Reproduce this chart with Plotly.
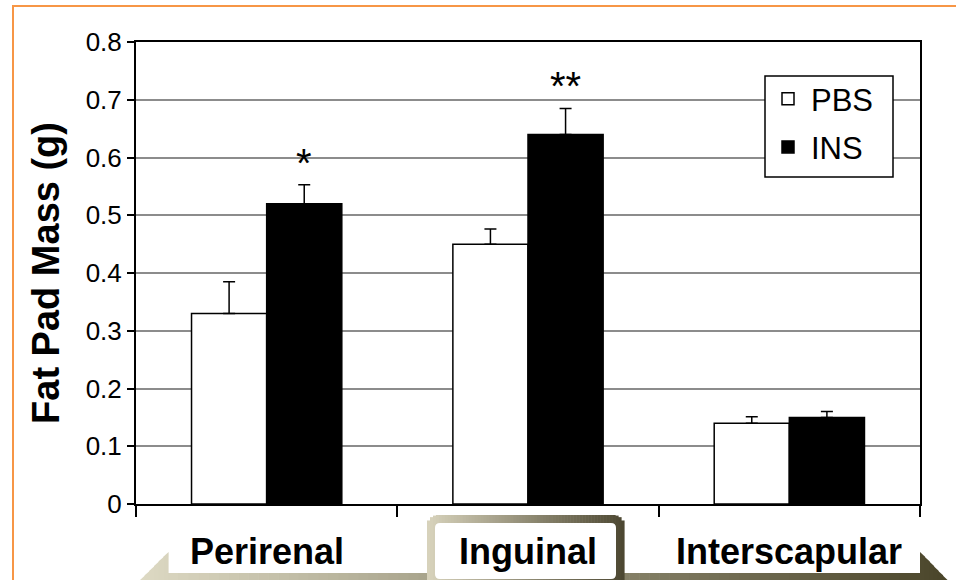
import plotly.graph_objects as go

categories = ["Perirenal", "Inguinal", "Interscapular"]
pbs_mean = [0.33, 0.45, 0.14]
pbs_err = [0.055, 0.026, 0.011]
ins_mean = [0.52, 0.64, 0.15]
ins_err = [0.033, 0.045, 0.010]
sig_labels = ["*", "**", ""]
y_ticks = [0, 0.1, 0.2, 0.3, 0.4, 0.5, 0.6, 0.7, 0.8]

W, H = 956, 580
L, R, T, B = 136, 920, 42, 504
FONT = "Arial, Liberation Sans, sans-serif"


def xp(px):
    return (px - L) / (R - L)


def yp(py):
    return (B - py) / (B - T)


def lerp_color(c0, c1, t):
    a = [int(c0[i:i + 2], 16) for i in (1, 3, 5)]
    b = [int(c1[i:i + 2], 16) for i in (1, 3, 5)]
    return "rgb(%d,%d,%d)" % tuple(round(a[k] + (b[k] - a[k]) * t) for k in range(3))


fig = go.Figure()
fig.add_trace(go.Bar(
    name="PBS", x=categories, y=pbs_mean,
    marker=dict(color="white", line=dict(color="black", width=1.5)),
    error_y=dict(type="data", array=pbs_err, arrayminus=[0] * 3, symmetric=False,
                 color="black", thickness=1.5, width=6),
    legendgroup="a",
))
fig.add_trace(go.Bar(
    name="INS", x=categories, y=ins_mean,
    marker=dict(color="black", line=dict(color="black", width=1.5)),
    error_y=dict(type="data", array=ins_err, arrayminus=[0] * 3, symmetric=False,
                 color="black", thickness=1.5, width=6),
    legendgroup="b",
))

bargap = 0.425
bar_w_px = (R - L) / len(categories) * (1 - bargap) / 2

annotations = []
for c, m, e, s in zip(categories, ins_mean, ins_err, sig_labels):
    if s:
        annotations.append(dict(x=c, y=m + e, xref="x", yref="y", text=s, showarrow=False,
                                xshift=bar_w_px / 2, yanchor="bottom", yshift=-2,
                                font=dict(family=FONT, size=40, color="black")))
for c in categories:
    annotations.append(dict(x=c, y=yp(551), xref="x", yref="paper", text="<b>%s</b>" % c,
                            showarrow=False, yanchor="middle",
                            font=dict(family=FONT, size=36, color="black")))

shapes = []
# legend frame (white box with black border)
shapes.append(dict(type="rect", xref="paper", yref="paper",
                   x0=xp(765), x1=xp(893), y0=yp(177), y1=yp(76),
                   fillcolor="white", line=dict(color="black", width=1.5), layer="above"))

# bottom gradient band (arrow base)
c0, c1 = "#DDD9C3", "#4A452A"
x_left, x_l2, x_r2, x_right = 140, 168, 920, 947
y_bot, y_top_tri, y_band = 585, 552, 573


def top_at(x, side):
    if x <= x_l2 and side == "L":
        return 580 - (x - x_left) * (580 - y_top_tri) / (x_l2 - x_left)
    if x >= x_r2 and side == "R":
        return y_top_tri + (x - x_r2) * (580 - y_top_tri) / (x_right - x_r2)
    return y_band


edges = []
n1 = 6
for i in range(n1):
    edges.append((x_left + (x_l2 - x_left) * i / n1, x_left + (x_l2 - x_left) * (i + 1) / n1, "L"))
n2 = 75
for i in range(n2):
    edges.append((x_l2 + (x_r2 - x_l2) * i / n2, x_l2 + (x_r2 - x_l2) * (i + 1) / n2, "M"))
n3 = 6
for i in range(n3):
    edges.append((x_r2 + (x_right - x_r2) * i / n3, x_r2 + (x_right - x_r2) * (i + 1) / n3, "R"))
for a, b, side in edges:
    t = ((a + b) / 2 - x_left) / (x_right - x_left)
    ta, tb = top_at(a, side), top_at(b, side)
    path = "M %f,%f L %f,%f L %f,%f L %f,%f Z" % (xp(a), yp(ta), xp(b + 0.6), yp(tb),
                                                 xp(b + 0.6), yp(y_bot), xp(a), yp(y_bot))
    shapes.append(dict(type="path", xref="paper", yref="paper", path=path,
                       fillcolor=lerp_color(c0, c1, t), line=dict(width=0), layer="above"))

# Inguinal rounded gradient box
bx0, bx1, by0, by1, rad = 427, 624, 515, 590, 11
bc0, bc1 = "#D8D3BC", "#4C4731"
nb = 66
for i in range(nb):
    a = bx0 + (bx1 - bx0) * i / nb
    b = bx0 + (bx1 - bx0) * (i + 1) / nb
    mid = (a + b) / 2
    d = 0
    if mid < bx0 + rad:
        d = bx0 + rad - mid
    elif mid > bx1 - rad:
        d = mid - (bx1 - rad)
    top = by0 + rad - (rad ** 2 - min(d, rad) ** 2) ** 0.5
    t = (mid - bx0) / (bx1 - bx0)
    shapes.append(dict(type="rect", xref="paper", yref="paper",
                       x0=xp(a), x1=xp(b + 0.6), y0=yp(by1), y1=yp(top),
                       fillcolor=lerp_color(bc0, bc1, t), line=dict(width=0), layer="above"))
ix0, ix1, iy0, iy1, ir = 435, 616, 523, 579, 5
inner = ("M %f,%f L %f,%f Q %f,%f %f,%f L %f,%f Q %f,%f %f,%f L %f,%f Q %f,%f %f,%f "
         "L %f,%f Q %f,%f %f,%f Z") % (
    xp(ix0 + ir), yp(iy0), xp(ix1 - ir), yp(iy0), xp(ix1), yp(iy0), xp(ix1), yp(iy0 + ir),
    xp(ix1), yp(iy1 - ir), xp(ix1), yp(iy1), xp(ix1 - ir), yp(iy1),
    xp(ix0 + ir), yp(iy1), xp(ix0), yp(iy1), xp(ix0), yp(iy1 - ir),
    xp(ix0), yp(iy0 + ir), xp(ix0), yp(iy0), xp(ix0 + ir), yp(iy0))
shapes.append(dict(type="path", xref="paper", yref="paper", path=inner,
                   fillcolor="white", line=dict(width=0), layer="above"))

# orange outer frame
shapes.append(dict(type="path", xref="paper", yref="paper",
                   path="M %f,%f L %f,%f L %f,%f" % (xp(13), yp(600), xp(13), yp(6), xp(970), yp(6)),
                   line=dict(color="#F79646", width=2), layer="above"))

fig.update_layout(
    width=W, height=H,
    margin=dict(l=L, r=W - R, t=T, b=H - B, autoexpand=False),
    paper_bgcolor="white", plot_bgcolor="white",
    barmode="group", bargap=bargap, bargroupgap=0,
    font=dict(family=FONT, color="black"),
    showlegend=True,
    legend=dict(x=xp(765), y=yp(72), xanchor="left", yanchor="top",
                borderwidth=0, bgcolor="rgba(0,0,0,0)",
                font=dict(family=FONT, size=31, color="black"), itemwidth=36,
                traceorder="grouped", tracegroupgap=5),
    annotations=annotations,
    shapes=shapes,
    xaxis=dict(type="category", showline=True, linecolor="black", linewidth=2, mirror=True,
               ticks="outside", ticklen=11, tickwidth=1.5, tickcolor="black",
               tickson="boundaries", showticklabels=False, showgrid=False, fixedrange=True),
    yaxis=dict(range=[0, 0.8], tickvals=y_ticks, ticktext=[("%g" % v) for v in y_ticks],
               showline=True, linecolor="black", linewidth=2, mirror=True,
               ticks="outside", ticklen=7, tickwidth=1.5, tickcolor="black",
               showgrid=True, gridcolor="#8C8C8C", gridwidth=1.5, zeroline=False,
               tickfont=dict(family=FONT, size=26, color="black"),
               title=dict(text="<b>Fat Pad Mass (g)</b>", standoff=14,
                          font=dict(family=FONT, size=38, color="black"))),
)

fig.write_html("out.html", config={"displayModeBar": False},
               post_script="document.body.style.margin='0';document.body.style.overflow='hidden';")
